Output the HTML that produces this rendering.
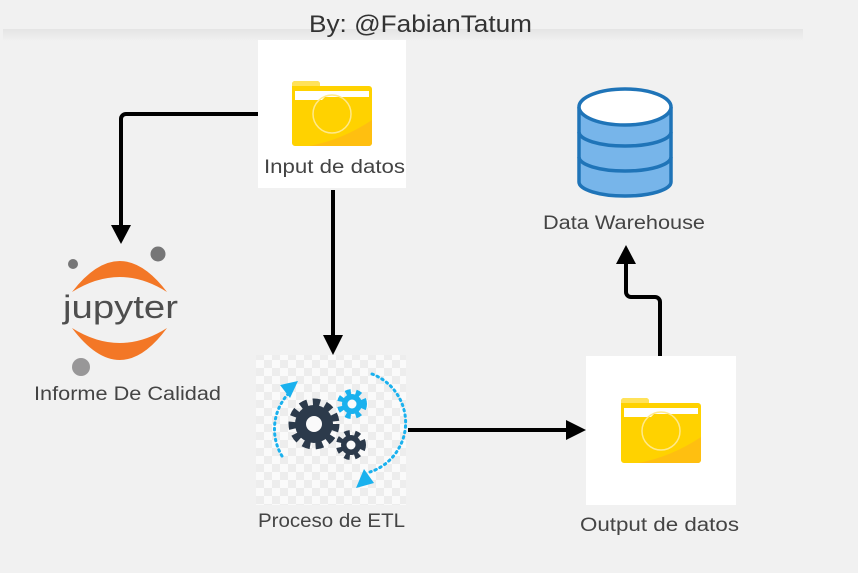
<!DOCTYPE html>
<html><head><meta charset="utf-8"><style>
html,body{margin:0;padding:0;background:#f1f1f1;}
svg{display:block;}
text{font-family:"Liberation Sans",sans-serif;fill:#444;}
</style></head><body>
<svg width="858" height="573" viewBox="0 0 858 573" xmlns="http://www.w3.org/2000/svg">
<defs>
<pattern id="chk" width="16" height="16" patternUnits="userSpaceOnUse">
<rect width="16" height="16" fill="#fafafa"/><rect width="8" height="8" fill="#ededed"/><rect x="8" y="8" width="8" height="8" fill="#ededed"/>
</pattern>
<linearGradient id="bar" x1="0" y1="0" x2="0" y2="1"><stop offset="0" stop-color="#e4e4e4"/><stop offset="1" stop-color="#f1f1f1"/></linearGradient>
<g id="folder">
<path d="M0,4 a3,3 0 0 1 3,-3 h22 a3,3 0 0 1 3,3 v2 h49 a3,3 0 0 1 3,3 v54 a3,3 0 0 1 -3,3 h-74 a3,3 0 0 1 -3,-3z" fill="#ffd200"/>
<path d="M0,4 a3,3 0 0 1 3,-3 h22 a3,3 0 0 1 3,3 v2 h-28z" fill="#ffe25a"/>
<path d="M80,40 L80,63 a3,3 0 0 1 -3,3 h-60 Q50,60 80,40z" fill="#ffbf10"/>
<path d="M3,11 h74 v6 h-44 l-3,3 h-27z" fill="#fff"/>
<circle cx="40" cy="34" r="19" fill="none" stroke="#ffe98a" stroke-width="1.5"/>
</g>
</defs>
<rect width="858" height="573" fill="#f1f1f1"/>
<rect x="3" y="29" width="800" height="12" fill="url(#bar)"/>
<text x="309" y="32" font-size="24" textLength="223" lengthAdjust="spacingAndGlyphs" style="fill:#333">By: @FabianTatum</text>

<rect x="258" y="40" width="148" height="148" fill="#fff"/>
<use href="#folder" x="292" y="80"/>
<text x="264" y="173" font-size="19" textLength="141" lengthAdjust="spacingAndGlyphs">Input de datos</text>

<g fill="none" stroke="#000" stroke-width="4">
<path d="M258,114 H126 a5,5 0 0 0 -5,5 V228"/>
<path d="M333,190 V338"/>
<path d="M408,430 H568"/>
<path d="M660,356 V302 a5,5 0 0 0 -5,-5 H631 a5,5 0 0 1 -5,-5 V262"/>
</g>
<g fill="#000">
<polygon points="111,225 131,225 121,244"/>
<polygon points="323,335 343,335 333,355"/>
<polygon points="566,420 566,440 586,430"/>
<polygon points="616,264 636,264 626,245"/>
</g>

<circle cx="73" cy="264" r="5" fill="#767677"/>
<circle cx="158" cy="254" r="7.5" fill="#767677"/>
<circle cx="81" cy="367" r="9" fill="#989798"/>
<path d="M72,292 Q120,230 167,292 Q120,262 72,292z" fill="#f37726"/>
<path d="M72,328 Q120,392 167,328 Q120,358 72,328z" fill="#f37726"/>
<text x="63" y="318" font-size="32" textLength="115" lengthAdjust="spacingAndGlyphs" style="fill:#4e4e4e">jupyter</text>
<text x="34" y="400" font-size="19" textLength="187" lengthAdjust="spacingAndGlyphs">Informe De Calidad</text>

<rect x="256" y="355" width="150" height="150" fill="url(#chk)"/>
<g fill="none" stroke="#1ab1ee" stroke-width="3" stroke-dasharray="1.5 4" stroke-linecap="round">
<path d="M282,456 A52,52 0 0 1 290,392"/>
<path d="M372,374 A52,52 0 0 1 370,472"/>
</g>
<polygon points="280,385 298,381 290,398" fill="#1ab1ee"/>
<polygon points="356,488 374,483 364,469" fill="#1ab1ee"/>
<g>
<circle cx="314" cy="424" r="21" fill="none" stroke="#2c3a4b" stroke-width="9" stroke-dasharray="7 5.2"/>
<circle cx="314" cy="424" r="19" fill="#2c3a4b"/>
<circle cx="314" cy="424" r="8" fill="#fafafa"/>
<circle cx="352" cy="404" r="12" fill="none" stroke="#1ab1ee" stroke-width="6" stroke-dasharray="5 5"/>
<circle cx="352" cy="404" r="10" fill="#1ab1ee"/>
<circle cx="352" cy="404" r="4.5" fill="#fafafa"/>
<circle cx="351" cy="445" r="12" fill="none" stroke="#2c3a4b" stroke-width="6" stroke-dasharray="5 5"/>
<circle cx="351" cy="445" r="10" fill="#2c3a4b"/>
<circle cx="351" cy="445" r="4.5" fill="#fafafa"/>
</g>
<text x="258" y="527" font-size="19" textLength="147" lengthAdjust="spacingAndGlyphs">Proceso de ETL</text>

<rect x="586" y="356" width="150" height="149" fill="#fff"/>
<use href="#folder" x="621" y="397"/>
<text x="580" y="531" font-size="19" textLength="159" lengthAdjust="spacingAndGlyphs">Output de datos</text>

<g stroke="#1f74b8" stroke-width="3.5">
<path d="M579,107 V182 A46,14 0 0 0 671,182 V107" fill="#77b5ea"/>
<path d="M579,132 A46,14 0 0 0 671,132 M579,157 A46,14 0 0 0 671,157" fill="none"/>
<ellipse cx="625" cy="107" rx="46" ry="18" fill="#fff"/>
</g>
<text x="543" y="229" font-size="19" textLength="162" lengthAdjust="spacingAndGlyphs">Data Warehouse</text>
</svg>
</body></html>
